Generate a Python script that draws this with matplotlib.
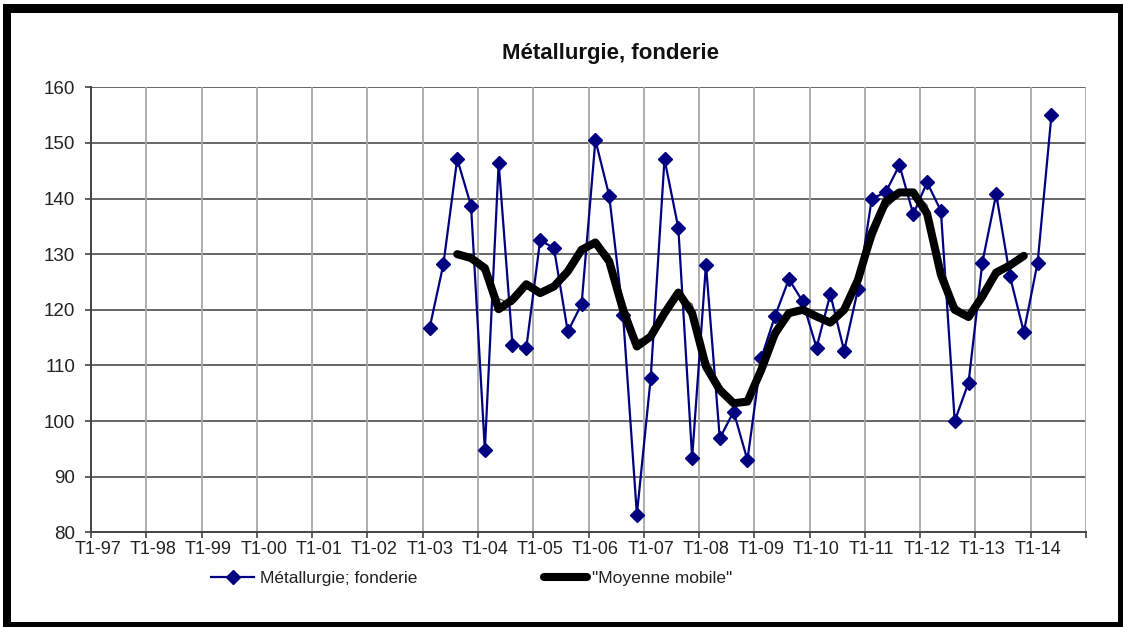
import numpy as np
import matplotlib
matplotlib.use("Agg")
import matplotlib.pyplot as plt
from matplotlib.patches import Rectangle

plt.rcParams['font.family'] = ['Liberation Sans', 'DejaVu Sans']

# === DATA ===
years = list(range(1997, 2015))
quarters = [f"T{q}-{str(y)[2:]}" for y in years for q in (1, 2, 3, 4)]
year_labels = [f"T1-{str(y)[2:]}" for y in years]

# quarterly index, first value at T1-03
serie_start = "T1-03"
serie = [116.7, 128.2, 147.1, 138.7, 94.8, 146.4, 113.7, 113.2, 132.5, 131.1,
         116.1, 121.0, 150.5, 140.5, 119.1, 83.2, 107.7, 147.1, 134.7, 93.4,
         128.1, 96.9, 101.7, 93.0, 111.3, 118.9, 125.5, 121.5, 113.2, 122.8,
         112.6, 123.7, 140.0, 141.1, 146.0, 137.2, 142.9, 137.8, 100.0, 106.9,
         128.5, 140.8, 126.0, 116.0, 128.5, 155.0]

# moving average, first value at T3-03
mm_start = "T3-03"
moy_mobile = [130.0, 129.3, 127.5, 120.1, 121.8, 124.6, 123.0, 124.2, 126.9, 130.8,
              132.1, 128.7, 120.0, 113.4, 115.2, 119.4, 123.1, 119.4, 109.8, 105.6,
              103.2, 103.5, 109.2, 115.8, 119.4, 120.0, 118.8, 117.7, 120.0, 125.4,
              133.8, 139.4, 141.1, 141.1, 137.3, 126.3, 120.0, 118.7, 122.4, 126.7,
              128.0, 129.7]
# thin companion curve drawn under the thick one
moy_mobile_fine = [129.8, 129.0, 126.5, 122.0, 121.0, 123.8, 123.4, 124.0, 126.4, 130.2,
                   132.0, 130.0, 122.0, 114.6, 115.0, 118.8, 122.6, 121.0, 111.5, 106.4,
                   103.8, 103.2, 107.8, 114.5, 118.8, 120.2, 119.0, 117.9, 119.6, 124.2,
                   131.8, 138.2, 140.6, 141.3, 138.8, 128.5, 121.0, 118.9, 121.5, 125.8,
                   127.8, 129.4]

i0 = quarters.index(serie_start)
x_serie = np.arange(i0, i0 + len(serie)) + 0.5
j0 = quarters.index(mm_start)
x_mm = np.arange(j0, j0 + len(moy_mobile)) + 0.5

# === FIGURE ===
W, H = 1123, 627
fig = plt.figure(figsize=(W / 100, H / 100), dpi=100)
fig.patch.set_facecolor('white')

ax = fig.add_axes([91 / W, 1 - 532.3 / H, 995 / W, 445 / H])

ax.plot(x_serie, serie, color='#000080', lw=1.6, marker='D', markersize=7,
        markerfacecolor='#000080', markeredgecolor='#000080',
        label='Métallurgie; fonderie', zorder=4)
ax.plot(x_mm, moy_mobile_fine, color='#555555', lw=1.0, zorder=5)
ax.plot(x_mm, moy_mobile, color='black', lw=5.8, solid_capstyle='round',
        solid_joinstyle='round', label='"Moyenne mobile"', zorder=6)

n = len(quarters)
ax.set_xlim(0, n)
ax.set_ylim(80, 160)

ax.set_yticks(np.arange(80, 161, 10))
ax.set_xticks(np.arange(0, n + 1, 4))
ax.set_xticklabels([])
ax.set_xticks(np.arange(0, n, 4) + 0.5, minor=True)
ax.set_xticklabels(year_labels, minor=True)

ax.tick_params(axis='y', which='major', direction='out', length=4.5, width=1.2,
               color='#444444', pad=7, labelsize=13.5, labelcolor='#222222')
ax.tick_params(axis='x', which='major', direction='out', length=4, width=1.2,
               color='#444444')
ax.tick_params(axis='x', which='minor', length=0, pad=6, labelsize=13,
               labelcolor='#222222')

for v in np.arange(90, 161, 10):
    ax.axhline(v, color='#5a5a5a', lw=1.3, zorder=1)
for k in np.arange(4, n + 1, 4):
    ax.axvline(k, color='#a8a8a8', lw=1.3, zorder=1)

for s in ('top', 'right'):
    ax.spines[s].set_visible(False)
for s in ('left', 'bottom'):
    ax.spines[s].set_color('#444444')
    ax.spines[s].set_linewidth(1.4)

fig.text(611 / W, 1 - 54 / H, 'Métallurgie, fonderie', ha='center', va='center',
         fontsize=16, fontweight='bold', color='#111111')

leg = fig.legend(loc='center left', bbox_to_anchor=(211 / W, 1 - 578 / H), ncol=2,
                 frameon=False, fontsize=12.5, handlelength=2.5, handletextpad=0.3,
                 columnspacing=7.3, borderpad=0, borderaxespad=0)
for t in leg.get_texts():
    t.set_color('#222222')

# outer black frame
def band(x0, y0, x1, y1):
    fig.patches.append(Rectangle((x0 / W, 1 - y1 / H), (x1 - x0) / W, (y1 - y0) / H,
                                 transform=fig.transFigure, facecolor='black',
                                 edgecolor='none', zorder=10))

band(3, 4, 1123, 12.5)
band(3, 4, 11.5, 627)
band(1118, 4, 1123, 627)
band(3, 622, 1123, 627)

fig.savefig('out.png', dpi=100)
